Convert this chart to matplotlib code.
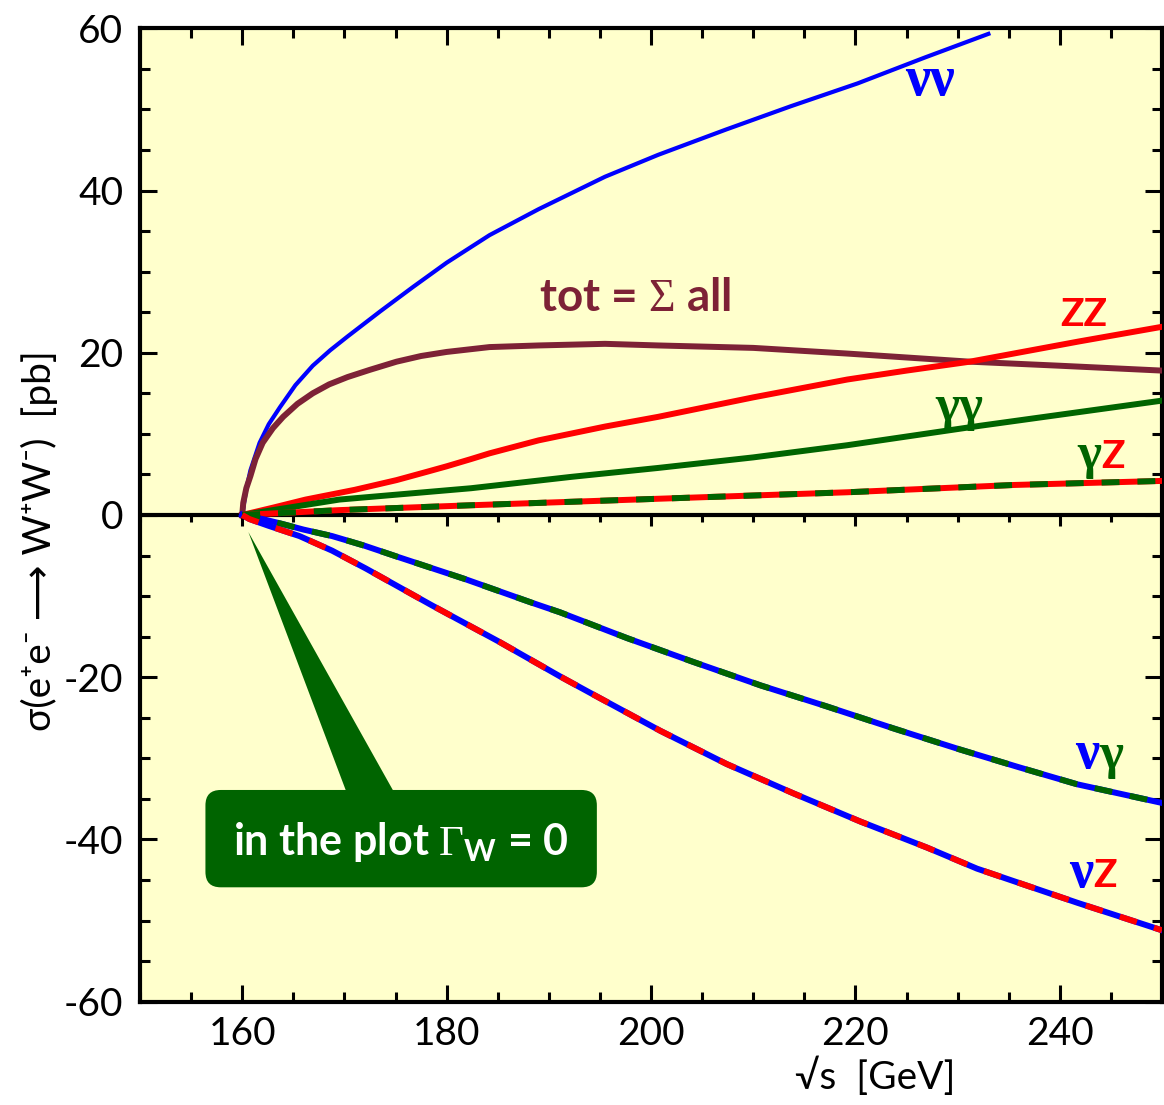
import matplotlib
matplotlib.use("Agg")
import matplotlib.pyplot as plt
from matplotlib.patches import FancyBboxPatch, Polygon
from matplotlib.ticker import MultipleLocator

plt.rcParams['font.family'] = ['Lato', 'DejaVu Sans']
plt.rcParams['axes.unicode_minus'] = False
plt.rcParams['mathtext.fontset'] = 'custom'
plt.rcParams['mathtext.rm'] = 'Liberation Serif'
plt.rcParams['mathtext.bf'] = 'Lato:bold'

# cross sections [pb] vs sqrt(s) [GeV]
x_nunu = [160, 160.4, 160.8, 161.7, 162.6, 163.7, 165.2, 166.9, 168.6, 170.3, 173.5, 176.7, 180, 184.2,
          189, 195.5, 200.7, 207.3, 213.7, 220.2, 226.8, 233.2]
y_nunu = [0, 3.2, 5.5, 8.9, 11.2, 13.3, 16.0, 18.4, 20.3, 22.0, 25.1, 28.1, 31.1, 34.5,
          37.7, 41.7, 44.4, 47.5, 50.4, 53.2, 56.4, 59.4]

x_tot = [160, 160.1, 160.4, 160.8, 161.3, 162.0, 163.0, 164.0, 165.4, 166.9, 168.5, 170.3, 172.5, 175.1,
         177.5, 180, 184.2, 189, 195.5, 200.7, 210, 219.2, 231.2, 240, 250]
y_tot = [0, 1.5, 3.3, 4.8, 6.9, 8.9, 10.7, 12.1, 13.7, 15.0, 16.1, 17.0, 17.9, 18.9,
         19.6, 20.1, 20.7, 20.9, 21.1, 20.9, 20.6, 19.9, 18.9, 18.4, 17.8]

x_zz = [160, 163, 166.2, 168.6, 171, 175.1, 178, 180, 182.4, 184.2, 189, 195.5, 200.7, 210, 219.2, 225,
        231.2, 241.9, 250]
y_zz = [0, 0.9, 1.9, 2.5, 3.1, 4.3, 5.3, 6.0, 6.9, 7.6, 9.2, 10.9, 12.1, 14.5, 16.7, 17.8,
        18.9, 21.4, 23.2]

x_gg = [160, 169.5, 182.4, 192.2, 200.7, 210, 219.2, 232.2, 250]
y_gg = [0, 1.9, 3.3, 4.7, 5.8, 7.1, 8.6, 11.0, 14.1]

x_gz = [160, 169.5, 182.4, 200.7, 219.2, 235.5, 250]
y_gz = [0, 0.6, 1.2, 2.0, 2.8, 3.7, 4.2]

x_ng = [160, 162, 163.9, 166, 168.8, 172, 175.3, 181.8, 188.3, 191.1, 197.7, 204.1, 210.7, 217.2, 223.7,
        230.2, 236, 241.7, 250]
y_ng = [0, -0.5, -1.1, -1.8, -2.6, -3.8, -5.2, -7.9, -10.8, -12.0, -15.2, -18.1, -21.0, -23.6, -26.3,
        -28.9, -31.1, -33.2, -35.5]

x_nz = [160, 160.7, 162.5, 165.6, 168.8, 172.1, 178.5, 185.1, 191.1, 194.3, 200.9, 207.4, 213.9, 220.5,
        227.0, 231.9, 241.7, 250]
y_nz = [0, -0.5, -1.3, -2.6, -4.4, -6.6, -11.1, -15.6, -19.9, -22.1, -26.6, -30.7, -34.3, -37.8,
        -41.0, -43.6, -47.8, -51.2]

xticks = [160, 180, 200, 220, 240]
yticks = [-60, -40, -20, 0, 20, 40, 60]

BLUE = '#0000ff'
RED = '#ff0000'
GREEN = '#006400'
MAROON = '#7d2236'
BG = '#ffffcc'

fig = plt.figure(figsize=(11.64, 11.05), dpi=100)
ax = fig.add_axes([0.1203, 0.0935, 0.8780, 0.8809])
ax.set_facecolor(BG)
ax.set_xlim(150, 250)
ax.set_ylim(-60, 60)

# zero line
ax.axhline(0, color='black', lw=3, zorder=1)

lw = 4.3
ax.plot(x_nunu, y_nunu, color=BLUE, lw=3, zorder=3, solid_capstyle='butt')
ax.plot(x_tot, y_tot, color=MAROON, lw=lw, zorder=3)
ax.plot(x_zz, y_zz, color=RED, lw=lw, zorder=3)
ax.plot(x_gg, y_gg, color=GREEN, lw=lw, zorder=3)
# two-colour dashed curves
ax.plot(x_gz, y_gz, color=RED, lw=lw, zorder=3)
ax.plot(x_gz, y_gz, color=GREEN, lw=lw, dashes=(3, 3), zorder=3.1)
ax.plot(x_ng, y_ng, color=BLUE, lw=lw, zorder=3)
ax.plot(x_ng, y_ng, color=GREEN, lw=lw, dashes=(3, 3), zorder=3.1)
ax.plot(x_nz, y_nz, color=BLUE, lw=lw, zorder=3)
ax.plot(x_nz, y_nz, color=RED, lw=lw, dashes=(3, 3), zorder=3.1)

# ticks
ax.set_xticks(xticks)
ax.set_yticks(yticks)
ax.xaxis.set_minor_locator(MultipleLocator(5))
ax.yaxis.set_minor_locator(MultipleLocator(5))
ax.tick_params(which='both', direction='in', top=True, right=True, width=2.2, labelsize=28)
ax.tick_params(which='major', length=12)
ax.tick_params(which='minor', length=7.5)
ax.tick_params(axis='x', pad=10)
ax.tick_params(axis='y', pad=12)
for sp in ax.spines.values():
    sp.set_linewidth(3)

# ticks hanging below the zero line
sec = ax.secondary_xaxis(0.5)
sec.set_xticks(xticks)
sec.xaxis.set_minor_locator(MultipleLocator(5))
sec.tick_params(which='both', direction='in', width=2.2, labeltop=False, labelbottom=False)
sec.tick_params(which='major', length=8)
sec.tick_params(which='minor', length=5)
for sp in sec.spines.values():
    sp.set_visible(False)

ax.set_ylabel('σ(e⁺e⁻ ⟶ W⁺W⁻)  [pb]', fontsize=28)
ax.yaxis.set_label_coords(-0.080, 0.474)
ax.set_xlabel('√s  [GeV]', fontsize=28)
ax.xaxis.set_label_coords(0.719, -0.056)

# curve labels
ax.text(227.3, 53.5, 'νν', color=BLUE, fontsize=40, family='Liberation Serif',
        weight='bold', ha='center', va='center')
ax.text(198.5, 26.8, r'tot = $\Sigma$ all', color=MAROON, fontsize=33, weight='bold',
        ha='center', va='center')
ax.text(242.3, 24.7, 'ZZ', color=RED, fontsize=28, weight='bold', ha='center', va='center')
ax.text(230.2, 13.2, 'γγ', color=GREEN, fontsize=37, family='Liberation Serif',
        weight='bold', ha='center', va='center')
ax.text(244.1, 5.8, 'γ', color=GREEN, fontsize=37, family='Liberation Serif',
        weight='bold', ha='right', va='baseline')
ax.text(244.1, 5.8, 'Z', color=RED, fontsize=28, weight='bold', ha='left', va='baseline')
ax.text(243.9, -31.2, 'ν', color=BLUE, fontsize=39, family='Liberation Serif',
        weight='bold', ha='right', va='baseline')
ax.text(243.9, -31.2, 'γ', color=GREEN, fontsize=37, family='Liberation Serif',
        weight='bold', ha='left', va='baseline')
ax.text(243.3, -45.9, 'ν', color=BLUE, fontsize=39, family='Liberation Serif',
        weight='bold', ha='right', va='baseline')
ax.text(243.3, -45.9, 'Z', color=RED, fontsize=28, weight='bold', ha='left', va='baseline')

# callout box
ax.add_patch(Polygon([(160.6, -2.1), (170.3, -34.5), (175.0, -34.5)],
                     closed=True, facecolor=GREEN, edgecolor='none', zorder=2))
ax.add_patch(FancyBboxPatch((156.4, -45.9), 38.3, 12.0,
                            boxstyle='round,pad=0,rounding_size=1.5',
                            mutation_aspect=1.26, facecolor=GREEN,
                            edgecolor='none', zorder=2))
ax.text(175.55, -40.3, r'in the plot $\Gamma_{\mathbf{W}}$ = 0', color='white',
        fontsize=31, weight='bold', ha='center', va='center', zorder=4)

fig.savefig('out.png', dpi=100)
